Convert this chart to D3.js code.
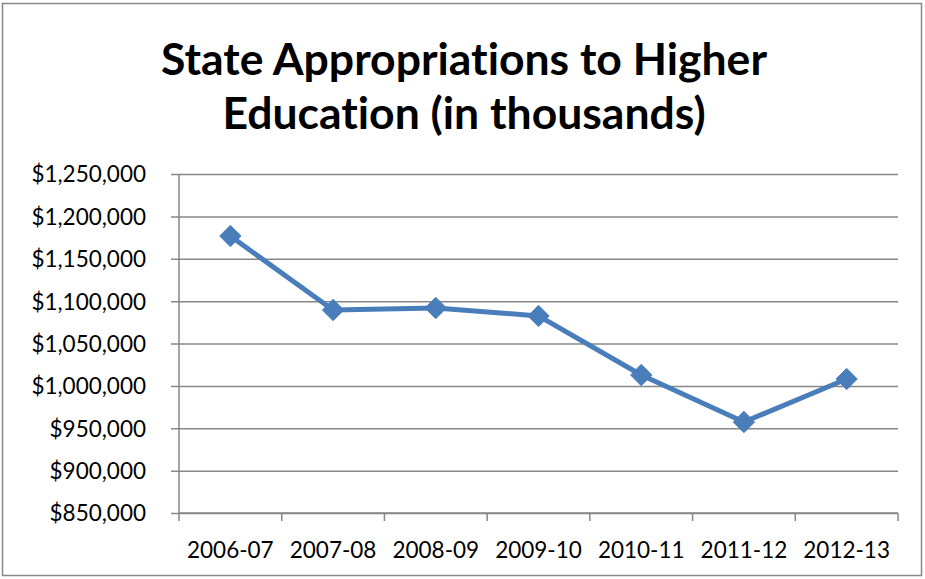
<!DOCTYPE html>
<html lang="en">
<head>
    <style>
        body { margin: 0; background: #fff; }
        svg { display: block; }
        text { font-family: Lato, "Open Sans", sans-serif; fill: #000; font-variant-ligatures: none; }
    </style>
</head>
<body>
    <svg width="925" height="579"></svg>
    <script src="https://cdn.jsdelivr.net/npm/d3@7"></script>
    <script>
        // Data
        const years = ["2006-07", "2007-08", "2008-09", "2009-10", "2010-11", "2011-12", "2012-13"];
        const appropriations = [1176800, 1089500, 1091900, 1082500, 1012800, 957400, 1008100];
        const yTicks = [850000, 900000, 950000, 1000000, 1050000, 1100000, 1150000, 1200000, 1250000];
        const titleLines = ["State Appropriations to Higher", "Education (in thousands)"];

        const data = years.map((y, i) => ({ year: y, value: appropriations[i] }));

        const svg = d3.select("svg");
        const margin = { top: 174, right: 27, bottom: 66, left: 179 };
        const width = 925 - margin.left - margin.right;
        const height = 579 - margin.top - margin.bottom;

        // Outer chart border
        svg.append("rect")
            .attr("x", 2.5).attr("y", 3.5)
            .attr("width", 919).attr("height", 572)
            .attr("fill", "none")
            .attr("stroke", "#888")
            .attr("stroke-width", 1.5);

        // Title
        svg.append("g").selectAll("text")
            .data(titleLines)
            .join("text")
            .attr("x", 464)
            .attr("y", (d, i) => 75 + i * 54)
            .attr("text-anchor", "middle")
            .style("font-size", "44.5px")
            .style("font-weight", "bold")
            .text(d => d);

        const chart = svg.append("g").attr("transform", `translate(${margin.left}, ${margin.top})`);

        const xScale = d3.scaleBand().domain(years).range([0, width]);
        const yScale = d3.scaleLinear().domain([850000, 1250000]).range([height, 0]);

        // Gridlines + y ticks
        chart.append("g")
            .call(d3.axisLeft(yScale).tickValues(yTicks).tickSize(-width).tickSizeOuter(0)
                .tickFormat(d => "$" + d3.format(",")(d)))
            .call(g => g.select(".domain").remove())
            .call(g => g.selectAll(".tick line").attr("x1", -8).attr("stroke", "#878787").attr("stroke-width", 1.5))
            .call(g => g.selectAll(".tick text").attr("x", -33).attr("dy", "0.35em").style("font-size", "22.5px"));

        // Y axis line
        chart.append("line")
            .attr("x1", 0).attr("x2", 0).attr("y1", 0).attr("y2", height)
            .attr("stroke", "#878787").attr("stroke-width", 1.5);

        // X axis
        const xAxis = chart.append("g").attr("transform", `translate(0, ${height})`);
        xAxis.append("line")
            .attr("x1", 0).attr("x2", width)
            .attr("stroke", "#878787").attr("stroke-width", 1.5);
        xAxis.selectAll(".xtick")
            .data(d3.range(years.length + 1))
            .join("line")
            .attr("class", "xtick")
            .attr("x1", i => i * xScale.step()).attr("x2", i => i * xScale.step())
            .attr("y1", 0).attr("y2", 8)
            .attr("stroke", "#878787").attr("stroke-width", 1.5);
        xAxis.selectAll(".xlabel")
            .data(years)
            .join("text")
            .attr("class", "xlabel")
            .attr("x", d => xScale(d) + xScale.bandwidth() / 2)
            .attr("y", 45)
            .attr("text-anchor", "middle")
            .style("font-size", "22.5px")
            .text(d => d);

        // Line
        const lineGenerator = d3.line()
            .x(d => xScale(d.year) + xScale.bandwidth() / 2)
            .y(d => yScale(d.value));

        chart.append("path")
            .datum(data)
            .attr("fill", "none")
            .attr("stroke", "#4a7ebb")
            .attr("stroke-width", 5)
            .attr("stroke-linejoin", "round")
            .attr("d", lineGenerator);

        // Diamond markers
        chart.selectAll(".point")
            .data(data)
            .join("path")
            .attr("class", "point")
            .attr("d", d3.symbol(d3.symbolDiamond2, 290))
            .attr("transform", d => `translate(${xScale(d.year) + xScale.bandwidth() / 2}, ${yScale(d.value)})`)
            .attr("fill", "#4a7ebb")
            .attr("stroke", "#4a7ebb")
            .attr("stroke-width", 1);
    </script>
</body>
</html>
